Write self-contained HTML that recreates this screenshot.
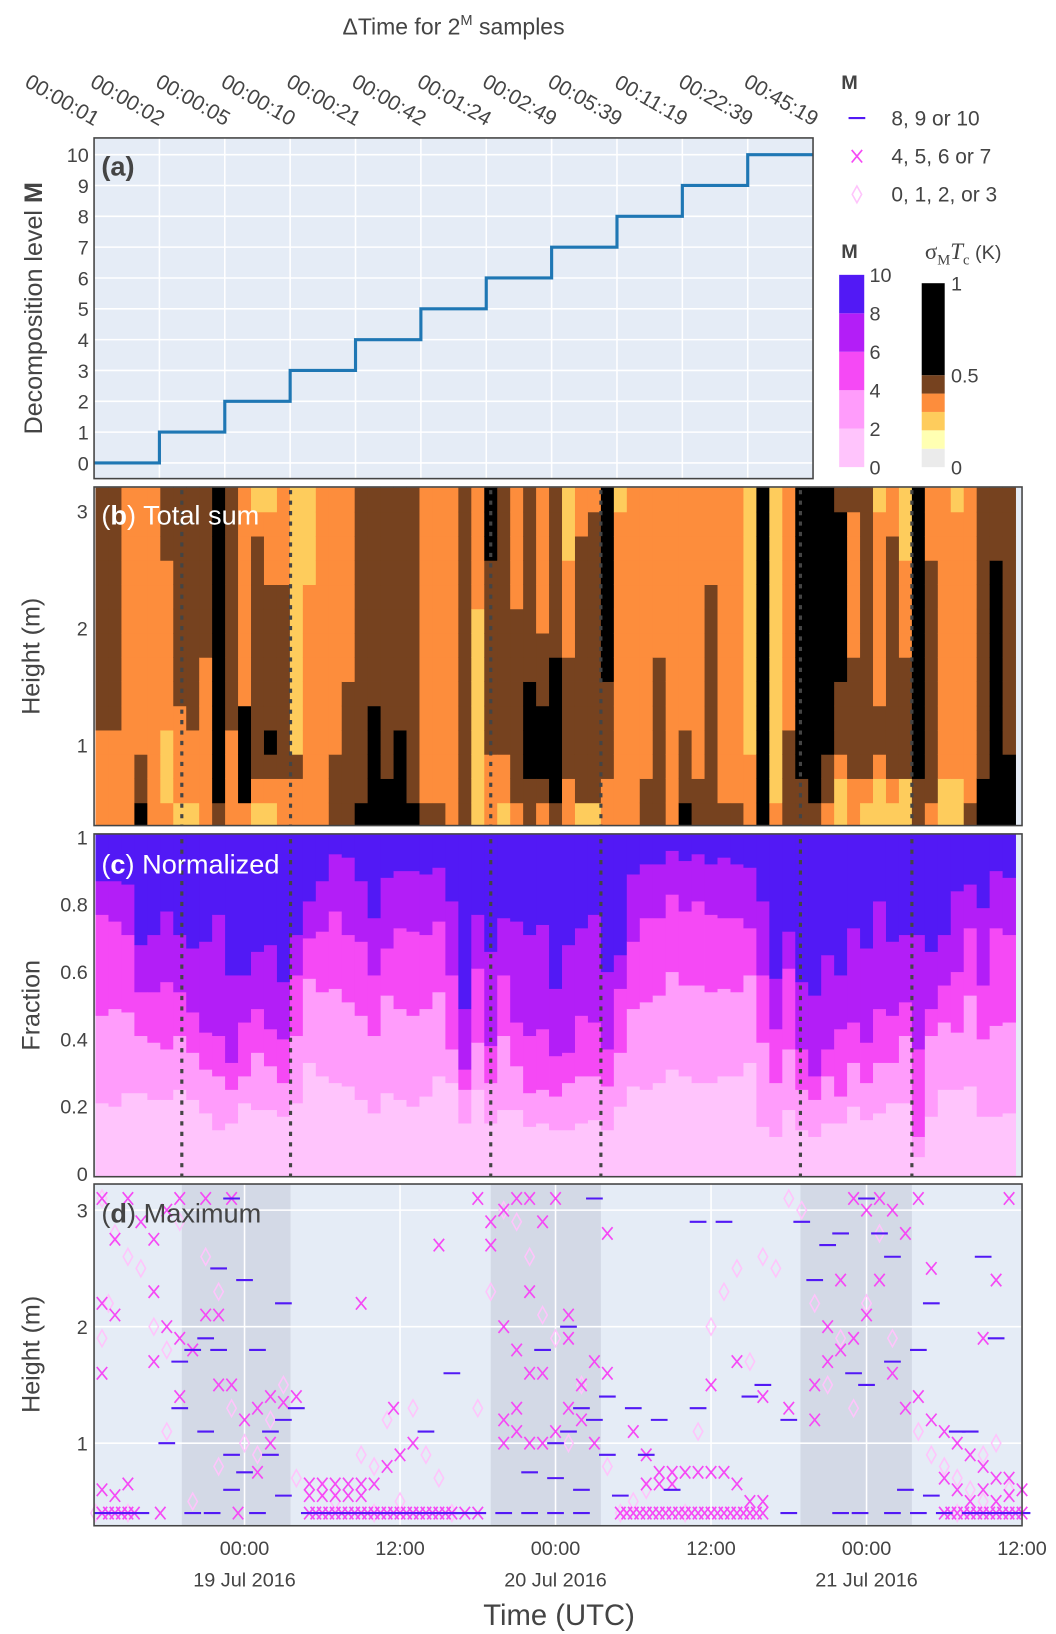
<!DOCTYPE html>
<html><head><meta charset="utf-8"><style>
html,body{margin:0;padding:0;background:#fff;}
svg{display:block;font-family:"Liberation Sans",sans-serif;}
</style></head><body>
<svg id="fig" width="1056" height="1634" viewBox="0 0 1010.5 1563.6" xmlns="http://www.w3.org/2000/svg"></svg>
<script>
// ---------- Panel (a) data ----------
const levelsM = [0,1,2,3,4,5,6,7,8,9,10];
const dtLabels = ["00:00:01","00:00:02","00:00:05","00:00:10","00:00:21","00:00:42","00:01:24","00:02:49","00:05:39","00:11:19","00:22:39","00:45:19"];
const yTicksA = [0,1,2,3,4,5,6,7,8,9,10];
// ---------- Panel (b) data: columns hourly from t=-11.5h (rel 19 Jul 00:00), rows bottom->top, 0.3..3.2 m
const colStartHours = -11.5;
const heatCols = ["OOOOBBBBBBBBBB","OOOOBBBBBBBBBB","OOOOOOOOOOOOOO","KBBOOOOOOOOOOO","OOOOOOOOOOOOOO","OYYYOOOOOOOBBB","YOOOOBBBBBBBBB","YOOOBBBBBBBBBB","OOOOOOOBBBBBBB","BKKKKKKKKKKKKK","OOOOBBBBBBBBBB","OKKKKOOOOOOOOO","YOBBBBBBBBBBOY","YOBKBBBBBBOOOY","OOBBBBBBBBOOOO","OOBYYYYYYYYYYY","OOOOOOOOOOYYYY","OOOOOOOOOOOOOO","BBBOOOOOOOOOOO","BBBBBBOOOOOOOO","KBBBBBBBBBBBBB","KKKKKBBBBBBBBB","KKBBBBBBBBBBBB","KKKKBBBBBBBBBB","KBBBBBBBBBBBBB","BOOOOOOOOOOOOO","BOOOOOOOOOOOOO","OOOOOOOOOOOOOO","BBBBBBBBBBBBBB","YYYYYYYYYOOOOO","OOOBBBBBBBBKKK","YOOBBBBBBBBBBB","OBBBBBBBBOOOOO","BBKKKKBBBBBBBB","OBKKKBBBOOOOOO","BKKKKKKBBBBBBB","OOBBBBBOOOOYYY","YBBBBBBBBBBBOO","YBBBBBBBBBBBBO","OOBBBBKKKKKKKK","OOOOOOOOOOOOOY","OOOOOOOOOOOOOO","BBOOOOOOOOOOOO","BBBBBBBOOOOOOO","OOOOOOOOOOOOOO","KBBBOOOOOOOOOO","BBOOOOOOOOOOOO","BBBBBBBBBBOOOO","BOOOOOOOOOOOOO","BOOOOOOOOOOOOO","OOOYYYYYYYYYYY","KKKKKKKKKKKKKK","OYYYYYYYYYYYYY","BBBBOOOOOOOOOO","BBKKKKKKKKKKKK","BKKKKKKKKKKKKK","OBBKKKKKKKKKKK","YYOBBBKKKKKKKB","OOBBBBBOOOOOOB","YOBBBBBBBBBBBB","YYOBBOOOOOOOOY","YOBBBBBBBBBBOO","YYBBBBBOOOOYYY","BBKKKKKKKKKKKK","OBBBBBBBBBBOOO","YYOOOOOOOOOOOO","YYOOOOOOOOOOOY","BOOOOOOOOOOOOO","KKBBBBBBBBBBBB","KKKKKKKKKKKBBB","KKKBBBBBBBBBBB"];
const heightMin = 0.3, heightMax = 3.2;
// ---------- Panel (c) data: cumulative fractions per column (M 0-2, 0-4, 0-6, 0-8)
const frac1 = [.21,.20,.24,.24,.22,.22,.25,.22,.18,.13,.15,.21,.19,.19,.17,.21,.33,.29,.27,.26,.22,.18,.24,.22,.20,.23,.29,.27,.15,.25,.15,.19,.19,.14,.15,.13,.13,.15,.16,.13,.20,.26,.25,.27,.31,.29,.27,.27,.29,.29,.33,.14,.11,.19,.13,.11,.15,.15,.20,.16,.18,.21,.21,.05,.17,.25,.25,.26,.17,.17,.18];
const frac2 = [.47,.49,.48,.41,.39,.37,.41,.36,.31,.29,.25,.29,.36,.32,.27,.41,.58,.54,.55,.51,.47,.41,.53,.49,.47,.49,.54,.37,.25,.39,.27,.41,.32,.24,.25,.23,.27,.29,.29,.26,.36,.49,.51,.53,.60,.56,.56,.54,.55,.54,.59,.39,.27,.37,.25,.22,.29,.23,.33,.27,.33,.33,.41,.11,.41,.45,.42,.53,.40,.44,.45];
const frac3 = [.77,.75,.71,.54,.54,.57,.54,.48,.42,.41,.33,.45,.49,.43,.40,.59,.70,.72,.78,.71,.69,.59,.67,.73,.72,.71,.75,.59,.31,.61,.38,.59,.45,.41,.43,.35,.36,.47,.45,.37,.55,.69,.76,.76,.83,.78,.81,.77,.76,.76,.73,.59,.43,.61,.37,.29,.37,.43,.45,.39,.49,.47,.51,.37,.49,.56,.60,.73,.56,.73,.71];
const frac4 = [.87,.87,.86,.68,.71,.78,.71,.67,.69,.77,.59,.59,.66,.68,.57,.71,.81,.87,.95,.94,.87,.76,.88,.90,.90,.89,.91,.81,.49,.77,.66,.76,.75,.71,.74,.55,.68,.73,.77,.60,.65,.89,.92,.92,.96,.93,.95,.92,.94,.92,.91,.81,.58,.72,.57,.53,.65,.59,.73,.67,.81,.69,.71,.71,.66,.71,.84,.86,.79,.90,.88];
const fracTicks = [0,0.2,0.4,0.6,0.8,1];
// ---------- Nights / dotted lines (hours rel 19 Jul 00:00)
const nightStart = [-4.84, 19.0, 42.9];
const nightEnd = [3.55, 27.5, 51.5];
// ---------- Time axis
const timeTicks = [0,12,24,36,48,60];
const timeTickLabels = ["00:00","12:00","00:00","12:00","00:00","12:00"];
const dateLabels = ["19 Jul 2016","","20 Jul 2016","","21 Jul 2016",""];
const heightTicks = [1,2,3];
// ---------- Panel (d) data: [hour, height]
const ptsHigh = [[-11,0.4],[-10,0.4],[-9,0.4],[-8,0.4],[-4,0.4],[-2.5,0.4],[1,0.4],[5,0.4],[6,0.4],[7,0.4],[8,0.4],[9,0.4],[10,0.4],[11,0.4],[12,0.4],[13,0.4],[14,0.4],[15,0.4],[16,0.4],[17,0.4],[18,0.4],[-5,1.7],[-4,1.8],[-3,1.9],[-2,1.8],[-5,1.3],[-3,1.1],[-1,0.9],[0,0.75],[2,0.9],[3,1.2],[4,1.3],[2,1.1],[1,1.8],[-6,1.0],[-1,0.6],[3,0.55],[-2,2.5],[-1,3.1],[0,2.4],[3,2.2],[24,1.0],[25,1.1],[26,1.3],[27,1.2],[28,0.9],[29,0.55],[22,0.75],[24,0.7],[26,0.6],[23,1.8],[25,2.0],[27,3.1],[28,1.4],[30,1.3],[31,0.9],[33,0.6],[39,1.4],[40,1.5],[42,1.2],[44,2.4],[47,1.6],[48,1.5],[50,1.7],[52,1.8],[53,2.2],[55,1.1],[51,0.6],[53,0.55],[56,1.1],[58,1.9],[57,2.6],[46,0.4],[47.5,0.4],[50,0.4],[52,0.4],[54,0.4],[56,0.4],[57,0.4],[58,0.4],[59,0.4],[60,0.4],[42,0.4],[32,1.2],[35,2.9],[48,3.1],[49,2.8],[50,2.6],[46,2.8],[16,1.6],[14,1.1],[35,1.3],[37,2.9],[43,2.9],[45,2.7],[20,0.4],[22,0.4],[24,0.4],[26,0.4]];
const ptsMid = [[-11,3.1],[-9,3.1],[-10,2.75],[-8,2.9],[-7,2.75],[-6,3.0],[-5,3.1],[-3,3.1],[-1,3.1],[-11,2.2],[-10,2.1],[-7,2.3],[-6,2.0],[-5,1.9],[-4,1.8],[-3,2.1],[-2,2.1],[-1,1.5],[0,1.2],[1,1.3],[2,1.4],[3,1.35],[4,1.4],[2,1.0],[1,0.75],[-2,1.5],[-5,1.4],[-7,1.7],[-11,1.6],[-11,0.4],[-10.5,0.4],[-10,0.4],[-9.5,0.4],[-9,0.4],[-8.5,0.4],[-6.5,0.4],[-0.5,0.4],[-10,0.55],[-9,0.65],[-11,0.6],[5,0.65],[6,0.65],[7,0.65],[8,0.65],[9,0.65],[10,0.65],[5,0.55],[6,0.55],[7,0.55],[8,0.55],[9,0.55],[5,0.4],[5.5,0.4],[6,0.4],[6.5,0.4],[7,0.4],[7.5,0.4],[8,0.4],[8.5,0.4],[9,0.4],[9.5,0.4],[10,0.4],[10.5,0.4],[11,0.4],[11.5,0.4],[12,0.4],[12.5,0.4],[13,0.4],[13.5,0.4],[14,0.4],[14.5,0.4],[15,0.4],[15.5,0.4],[16,0.4],[17,0.4],[18,0.4],[11,0.8],[12,0.9],[13,1.0],[11.5,1.3],[9,2.2],[15,2.7],[19,2.9],[20,3.0],[21,3.1],[22,3.1],[23,2.9],[18,3.1],[19,2.7],[20,2.0],[21,1.8],[22,1.6],[23,1.6],[21,1.3],[20,1.2],[21,1.1],[20,1.0],[22,1.0],[23,1.0],[24,1.1],[25,1.3],[26,1.2],[27,1.0],[26,1.5],[28,2.8],[25,2.1],[22,2.3],[24,3.1],[25,1.9],[27,1.7],[28,1.6],[30,1.1],[31,0.9],[32,0.75],[33,0.75],[34,0.75],[35,0.75],[36,0.75],[37,0.75],[31,0.65],[32,0.65],[33,0.65],[38,0.65],[39,0.5],[40,0.5],[36,1.5],[38,1.7],[40,1.4],[42,1.3],[44,1.5],[45,2.0],[46,2.4],[47,3.1],[48,3.0],[49,3.1],[50,3.0],[51,2.8],[52,3.1],[53,2.5],[49,2.4],[48,2.1],[47,1.9],[46,1.8],[45,1.7],[44,1.2],[50,1.6],[51,1.3],[52,1.4],[53,1.2],[54,1.1],[55,1.0],[56,0.9],[57,0.8],[58,0.7],[59,0.7],[60,0.6],[55,0.6],[56,0.5],[57,0.6],[58,0.5],[59,0.55],[54,0.7],[57,1.9],[59,3.1],[58,2.4],[29,0.4],[29.5,0.4],[30,0.4],[30.5,0.4],[31,0.4],[31.5,0.4],[32,0.4],[32.5,0.4],[33,0.4],[33.5,0.4],[34,0.4],[34.5,0.4],[35,0.4],[35.5,0.4],[36,0.4],[36.5,0.4],[37,0.4],[37.5,0.4],[38,0.4],[38.5,0.4],[39,0.4],[39.5,0.4],[40,0.4],[54,0.4],[54.5,0.4],[55,0.4],[55.5,0.4],[56,0.4],[56.5,0.4],[57,0.4],[57.5,0.4],[58,0.4],[58.5,0.4],[59,0.4],[59.5,0.4],[60,0.4]];
const ptsLow = [[-11,3.1],[-10,2.8],[-9,2.6],[-8,2.5],[-10.5,2.2],[-11,1.9],[-7,2.0],[-6,1.8],[-5,2.9],[-3,2.6],[-2,2.3],[-1,1.3],[0,1.0],[1,0.9],[2,1.2],[3,1.5],[4,0.7],[6,0.6],[7,0.5],[9,0.9],[10,0.8],[11,1.2],[12,0.5],[13,1.3],[14,0.9],[15,0.7],[18,1.3],[19,2.3],[20,3.0],[21,2.9],[22,2.6],[23,2.1],[24,1.9],[-4,0.5],[-6,1.1],[26,1.5],[28,0.8],[30,0.5],[31,0.6],[33,0.7],[35,1.1],[36,2.0],[37,2.3],[38,2.5],[39,1.7],[40,2.6],[41,2.5],[42,3.1],[43,3.0],[44,2.2],[46,1.9],[47,1.3],[48,2.2],[49,2.8],[50,1.9],[52,1.1],[53,0.9],[54,0.8],[55,0.7],[56,0.6],[57,0.9],[58,1.0],[59,0.6],[-11.5,0.4],[-9,0.4],[34,0.4],[10,0.4],[16,0.4],[55,0.4],[57,0.5],[-2,0.8],[25,1.0],[29,0.4],[45,1.5]];

// ---------- rendering ----------
const NS = "http://www.w3.org/2000/svg";
const svg = document.getElementById('fig');
function mk(tag, attrs, parent){const e=document.createElementNS(NS,tag);for(const k in attrs)e.setAttribute(k,attrs[k]);(parent||svg).appendChild(e);return e;}
function txt(s, attrs, parent){const e=mk('text',attrs,parent);e.textContent=s;return e;}
const BG="#e5ecf6", TXT="#444";
const PX0=90, PX1=978;
const xT = h => 234 + h*12.4;
const A = {x0:90,x1:778,y0:132,y1:458};
const xA = m => A.x0 + m*62.55;
const yA = v => 443 - v*29.5;
const B = {y0:466,y1:790}; const yB = h => 713 - (h-1)*112;
const C = {y0:798,y1:1126}; const yC = f => 1123 - f*322;
const D = {y0:1133,y1:1460}; const yD = h => 1381 - (h-1)*111.5;

let t = txt('', {x:434,y:33,'font-size':22,fill:TXT,'text-anchor':'middle'});


t.innerHTML = 'ΔTime for 2<tspan dy="-9" font-size="14">M</tspan><tspan dy="9"> samples</tspan>';

// Panel A
let ga = mk('g',{});


mk('rect',{x:A.x0,y:A.y0,width:A.x1-A.x0,height:A.y1-A.y0,fill:BG},ga);
for(let k=1;k<dtLabels.length-1;k++){mk('line',{x1:xA(k),x2:xA(k),y1:A.y0,y2:A.y1,stroke:'#fff','stroke-width':1.5},ga);}
yTicksA.forEach(v=>{mk('line',{x1:A.x0,x2:A.x1,y1:yA(v),y2:yA(v),stroke:'#fff','stroke-width':1.5},ga);
 let l=txt(String(v),{x:A.x0-5,y:yA(v)+7,'font-size':19,fill:TXT,'text-anchor':'end'},ga);
 
 });
dtLabels.forEach((s,k)=>{let l=txt(s,{'font-size':20,fill:TXT,'text-anchor':'end',transform:`translate(${xA(k)},${121}) rotate(30)`},ga);
 
 });
let d='';levelsM.forEach((m,i)=>{d+=(i?'L':'M')+xA(m)+','+yA(m)+' L'+xA(m+1)+','+yA(m)+' ';});
let step=mk('path',{d:d,fill:'none',stroke:'#1f77b4','stroke-width':3},ga);


mk('rect',{x:A.x0,y:A.y0,width:A.x1-A.x0,height:A.y1-A.y0,fill:'none',stroke:'#444','stroke-width':1.5},ga);
let la=txt('(a)',{x:97,y:168,'font-size':26,'font-weight':'bold',fill:TXT},ga);


let yt=txt('',{transform:'translate(40,295) rotate(-90)','font-size':24,fill:TXT,'text-anchor':'middle'},ga);


yt.innerHTML='Decomposition level <tspan font-weight="bold">M</tspan>';

// Panel B heatmap
const heatColor = {G:'#ebebeb',P:'#ffffb2',Y:'#fecc5c',O:'#fd8d3c',B:'#76421f',K:'#000000'};
let gb=mk('g',{});


mk('rect',{x:PX0,y:B.y0,width:PX1-PX0,height:B.y1-B.y0,fill:BG},gb);
const nRows = heatCols[0].length, rowH=(heightMax-heightMin)/nRows;
heatCols.forEach((col,k)=>{
  const xa=xT(colStartHours+k), xb=xT(colStartHours+k+1);
  for(let r=0;r<nRows;r++){
    const ya=yB(heightMin+(r+1)*rowH), yb=yB(heightMin+r*rowH);
    const top=Math.max(ya,B.y0), bot=Math.min(yb,B.y1);
    let c=mk('rect',{x:xa,y:top,width:xb-xa+0.4,height:bot-top+0.4,fill:heatColor[col[r]]},gb);
    
    
  }
});
heightTicks.forEach(h=>{let l=txt(String(h),{x:PX0-6,y:yB(h)+7,'font-size':19,fill:TXT,'text-anchor':'end'},gb);
 
 });
nightStart.concat(nightEnd).forEach(h=>{let l=mk('line',{x1:xT(h),x2:xT(h),y1:B.y0+3,y2:B.y1,stroke:'#444','stroke-width':3,'stroke-dasharray':'4,6'},gb);
 
 });
mk('rect',{x:PX0,y:B.y0,width:PX1-PX0,height:B.y1-B.y0,fill:'none',stroke:'#444','stroke-width':1.5},gb);
let lb=txt('',{x:97,y:502,'font-size':26,fill:'#fff'},gb);


lb.innerHTML='(<tspan font-weight="bold">b</tspan>) Total sum';
let ytb=txt('Height (m)',{transform:'translate(38,628) rotate(-90)','font-size':24,fill:TXT,'text-anchor':'middle'},gb);



// Panel C stacked
const bandColors=['#ffc4fc','#ff9cfb','#f549f5','#b31ef7','#5219f5'];
let gc=mk('g',{});


mk('rect',{x:PX0,y:C.y0,width:PX1-PX0,height:C.y1-C.y0,fill:BG},gc);
frac1.forEach((f1,k)=>{
  const xa=xT(colStartHours+k), xb=xT(colStartHours+k+1);
  const bounds=[0,f1,frac2[k],frac3[k],frac4[k],1];
  for(let b=0;b<5;b++){
    const ya=yC(bounds[b+1]), yb=yC(bounds[b]);
    let c=mk('rect',{x:xa,y:b==4?C.y0:ya,width:xb-xa+0.4,height:(b==0?C.y1:yb)-(b==4?C.y0:ya)+0.4,fill:bandColors[b]},gc);
    
    
  }
});
fracTicks.forEach(f=>{let l=txt(String(f),{x:PX0-6,y:yC(f)+7,'font-size':19,fill:TXT,'text-anchor':'end'},gc);
 
 });
nightStart.concat(nightEnd).forEach(h=>{let l=mk('line',{x1:xT(h),x2:xT(h),y1:C.y0+5,y2:C.y1,stroke:'#444','stroke-width':3,'stroke-dasharray':'4,6'},gc);
 
 });
mk('rect',{x:PX0,y:C.y0,width:PX1-PX0,height:C.y1-C.y0,fill:'none',stroke:'#444','stroke-width':1.5},gc);
let lc=txt('',{x:97,y:836,'font-size':26,fill:'#fff'},gc);


lc.innerHTML='(<tspan font-weight="bold">c</tspan>) Normalized';
let ytc=txt('Fraction',{transform:'translate(38,962) rotate(-90)','font-size':24,fill:TXT,'text-anchor':'middle'},gc);



// Panel D scatter
let gd=mk('g',{});


mk('rect',{x:PX0,y:D.y0,width:PX1-PX0,height:D.y1-D.y0,fill:BG},gd);
nightStart.forEach((h,i)=>{let r=mk('rect',{x:xT(h),y:D.y0,width:xT(nightEnd[i])-xT(h),height:D.y1-D.y0,fill:'#d3d9e6'},gd);
 
 });
timeTicks.forEach(h=>mk('line',{x1:xT(h),x2:xT(h),y1:D.y0,y2:D.y1,stroke:'#fff','stroke-width':1.5},gd));
heightTicks.forEach(h=>{mk('line',{x1:PX0,x2:PX1,y1:yD(h),y2:yD(h),stroke:'#fff','stroke-width':1.5},gd);
 let l=txt(String(h),{x:PX0-6,y:yD(h)+7,'font-size':19,fill:TXT,'text-anchor':'end'},gd);
 
 });
ptsLow.forEach(p=>{const x=xT(p[0]),y=yD(p[1]);
 let m=mk('path',{d:`M${x},${y-8}L${x+4.5},${y}L${x},${y+8}L${x-4.5},${y}Z`,fill:'none',stroke:'#ffc4fc','stroke-width':1.5},gd);
 
 });
ptsMid.forEach(p=>{const x=xT(p[0]),y=yD(p[1]);
 let m=mk('path',{d:`M${x-5},${y-6}L${x+5},${y+6}M${x-5},${y+6}L${x+5},${y-6}`,fill:'none',stroke:'#f549f5','stroke-width':1.6},gd);
 
 });
ptsHigh.forEach(p=>{const x=xT(p[0]),y=yD(p[1]);
 let m=mk('line',{x1:x-8,x2:x+8,y1:y,y2:y,stroke:'#5219f5','stroke-width':2},gd);
 
 });
mk('rect',{x:PX0,y:D.y0,width:PX1-PX0,height:D.y1-D.y0,fill:'none',stroke:'#444','stroke-width':1.5},gd);
let ld=txt('',{x:97,y:1170,'font-size':26,fill:TXT},gd);


ld.innerHTML='(<tspan font-weight="bold">d</tspan>) Maximum';
let ytd=txt('Height (m)',{transform:'translate(38,1296) rotate(-90)','font-size':24,fill:TXT,'text-anchor':'middle'},gd);


timeTicks.forEach((h,i)=>{
 let l=txt(timeTickLabels[i],{x:xT(h),y:1488,'font-size':19,fill:TXT,'text-anchor':'middle'});
 
 
 if(dateLabels[i]){let dl=txt(dateLabels[i],{x:xT(h),y:1518,'font-size':19,fill:TXT,'text-anchor':'middle'});
 
 }
});
let xt=txt('Time (UTC)',{x:535,y:1555,'font-size':28,fill:TXT,'text-anchor':'middle'});



// Legend
let lg=mk('g',{});


txt('M',{x:805,y:85,'font-size':19,'font-weight':'bold',fill:TXT},lg);
const legTexts=['8, 9 or 10','4, 5, 6 or 7','0, 1, 2, or 3'];
legTexts.forEach((s,i)=>{const y=113+i*36.5;
 let e=mk('g',{},lg);
 
 
 if(i==0) mk('line',{x1:812,x2:828,y1:y,y2:y,stroke:'#5219f5','stroke-width':2},e);
 if(i==1) mk('path',{d:`M815,${y-6}L825,${y+6}M815,${y+6}L825,${y-6}`,stroke:'#f549f5','stroke-width':1.6,fill:'none'},e);
 if(i==2) mk('path',{d:`M820,${y-8}L824.5,${y}L820,${y+8}L815.5,${y}Z`,stroke:'#ffc4fc','stroke-width':1.5,fill:'none'},e);
 txt(s,{x:853,y:y+7,'font-size':20,fill:TXT},e);
});
let cb1=mk('g',{});


txt('M',{x:805,y:247,'font-size':19,'font-weight':'bold',fill:TXT},cb1);
const cbMTicks=[10,8,6,4,2,0];
const yCb1=v=>447-(v/10)*184;
bandColors.forEach((c,i)=>mk('rect',{x:803,y:yCb1(2*i+2),width:24,height:yCb1(2*i)-yCb1(2*i+2),fill:c},cb1));
cbMTicks.forEach(v=>txt(String(v),{x:832,y:yCb1(v)+7,'font-size':19,fill:TXT},cb1));
let cb2=mk('g',{});


let st=txt('',{x:885,y:248,'font-size':22,fill:TXT,'font-family':'"Liberation Serif",serif'},cb2);
st.innerHTML='σ<tspan font-size="14" dy="5">M</tspan><tspan dy="-5" font-style="italic">T</tspan><tspan font-size="14" dy="5">c</tspan><tspan dy="-5" font-family="Liberation Sans" font-size="19"> (K)</tspan>';
const sigBounds=[0,0.1,0.2,0.3,0.4,0.5,1];
const sigColors=['#ebebeb','#ffffb2','#fecc5c','#fd8d3c','#76421f','#000000'];
const yCb2=v=>447-v*176;
sigColors.forEach((c,i)=>mk('rect',{x:882,y:yCb2(sigBounds[i+1]),width:22,height:yCb2(sigBounds[i])-yCb2(sigBounds[i+1]),fill:c},cb2));
[[1,'1'],[0.5,'0.5'],[0,'0']].forEach(p=>txt(p[1],{x:910,y:yCb2(p[0])+7,'font-size':19,fill:TXT},cb2));
</script>
</body></html>
